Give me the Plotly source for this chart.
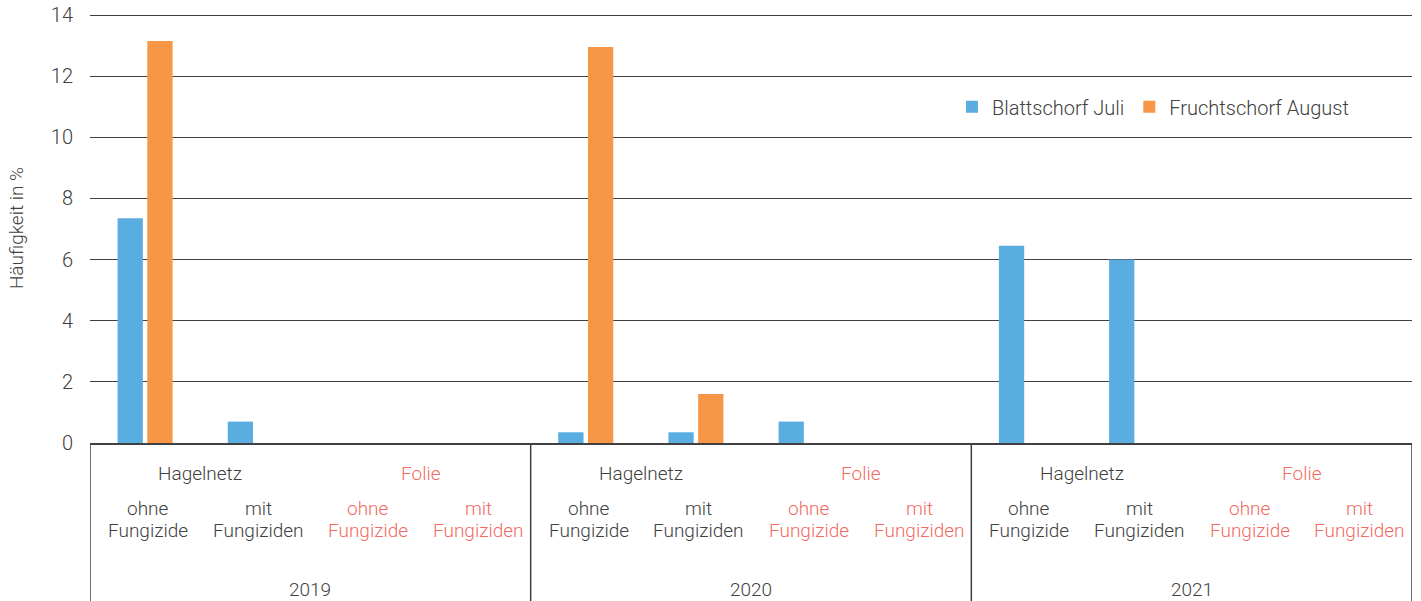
import plotly.graph_objects as go

years = ["2019", "2020", "2021"]
systems = ["Hagelnetz", "Folie"]
treatments = [["ohne", "Fungizide"], ["mit", "Fungiziden"]]

blattschorf_juli = [7.35, 0.7, 0, 0,
                    0.35, 0.35, 0.7, 0,
                    6.45, 6.0, 0, 0]
fruchtschorf_august = [13.15, 0, 0, 0,
                       12.95, 1.6, 0, 0,
                       0, 0, 0, 0]

series_names = ["Blattschorf Juli", "Fruchtschorf August"]
series_colors = ["#5aade1", "#f79646"]

GRAY = "#404040"
RED = "#f26a62"
FONT = "Roboto"
FS = 19

n_cat = len(years) * len(systems) * len(treatments)
xs = list(range(n_cat))

fig = go.Figure()
for name, vals, col in zip(series_names, [blattschorf_juli, fruchtschorf_august], series_colors):
    fig.add_trace(go.Bar(x=xs, y=vals, name=name, marker=dict(color=col, line=dict(width=0))))

annotations = []
shapes = []
per_year = len(systems) * len(treatments)
line_shifts = [-65, -87]
for yi, yr in enumerate(years):
    base = yi * per_year
    annotations.append(dict(x=base + (per_year - 1) / 2, y=0, xref="x", yref="paper",
                            text=yr, showarrow=False, yanchor="middle", yshift=-146,
                            font=dict(size=FS, color=GRAY, family=FONT, weight=300)))
    for si, sy in enumerate(systems):
        col = GRAY if si == 0 else RED
        sbase = base + si * len(treatments)
        annotations.append(dict(x=sbase + (len(treatments) - 1) / 2, y=0, xref="x", yref="paper",
                                text=sy, showarrow=False, yanchor="middle", yshift=-30,
                                font=dict(size=FS, color=col, family=FONT, weight=300)))
        for ti, tr in enumerate(treatments):
            for li, part in enumerate(tr):
                annotations.append(dict(x=sbase + ti, y=0, xref="x", yref="paper",
                                        text=part, showarrow=False, yanchor="middle",
                                        yshift=line_shifts[li], xshift=3,
                                        font=dict(size=FS, color=col, family=FONT, weight=300)))
for b in range(len(years) + 1):
    shapes.append(dict(type="line", xref="x", yref="paper",
                       x0=b * per_year - 0.5, x1=b * per_year - 0.5, y0=0, y1=-0.4,
                       line=dict(color=GRAY, width=1.5)))

y_top = 14 * 430 / 428

fig.update_layout(
    width=1421, height=601,
    margin=dict(l=90, r=9, t=13, b=158, autoexpand=False),
    paper_bgcolor="white", plot_bgcolor="white",
    barmode="group", bargap=0.46, bargroupgap=0.15,
    font=dict(family=FONT, color=GRAY, size=FS, weight=300),
    legend=dict(orientation="h", x=0.652, y=0.782, xanchor="left", yanchor="middle",
                font=dict(size=20, color=GRAY, family=FONT, weight=300),
                bgcolor="rgba(0,0,0,0)"),
    annotations=annotations,
    shapes=shapes,
    xaxis=dict(range=[-0.5, n_cat - 0.5], showticklabels=False, showgrid=False,
               zeroline=False, showline=True, linecolor=GRAY, linewidth=1.5, ticks=""),
    yaxis=dict(range=[0, y_top], tickvals=[0, 2, 4, 6, 8, 10, 12, 14],
               showgrid=True, gridcolor=GRAY, gridwidth=1,
               zeroline=False, showline=False, ticks="", ticklabelstandoff=16,
               tickfont=dict(size=20, color=GRAY, family=FONT, weight=300),
               title=dict(text="Häufigkeit in %", standoff=22,
                          font=dict(size=FS, color=GRAY, family=FONT, weight=300))),
)

fig.write_html("out.html", config={"displayModeBar": False},
               post_script="document.body.style.margin='0';")
